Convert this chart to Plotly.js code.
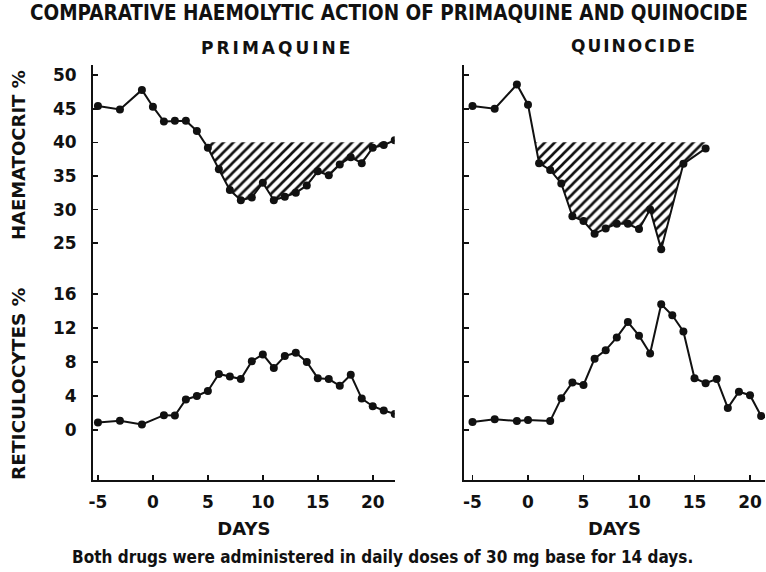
<!DOCTYPE html>
<html>
<head>
<meta charset="utf-8">
<script src="https://cdn.plot.ly/plotly-3.0.1.min.js"></script>
<style>html,body{margin:0;padding:0;background:#fff;}</style>
</head>
<body>
<div id="chart" style="width:766px;height:572px;"></div>
<script>
// ---- data ----
const daysHctPrim = [-5,-3,-1,0,1,2,3,4,5,6,7,8,9,10,11,12,13,14,15,16,17,18,19,20,21,22];
const hctPrim = [45.4,44.9,47.8,45.3,43.1,43.2,43.2,41.7,39.2,36.0,32.9,31.4,31.8,34.0,31.4,31.9,32.5,33.6,35.7,35.1,36.7,37.8,36.9,39.2,39.6,40.3];

const daysRetPrim = [-5,-3,-1,1,2,3,4,5,6,7,8,9,10,11,12,13,14,15,16,17,18,19,20,21,22];
const retPrim = [0.9,1.1,0.66,1.75,1.7,3.6,4.0,4.6,6.6,6.3,6.0,8.1,8.9,7.3,8.7,9.1,8.0,6.1,6.0,5.2,6.5,3.7,2.8,2.3,1.9];

const daysHctQuin = [-5,-3,-1,0,1,2,3,4,5,6,7,8,9,10,11,12,14,16];
const hctQuin = [45.4,45.0,48.6,45.6,36.9,35.9,33.9,29.0,28.3,26.4,27.2,27.9,27.9,27.1,30.0,24.1,36.8,39.1];

const daysRetQuin = [-5,-3,-1,0,2,3,4,5,6,7,8,9,10,11,12,13,14,15,16,17,18,19,20,21];
const retQuin = [0.95,1.27,1.07,1.18,1.07,3.75,5.6,5.3,8.4,9.4,10.9,12.7,11.1,9.0,14.8,13.5,11.6,6.1,5.5,6.0,2.6,4.5,4.1,1.66];

const hctLevel = 40;
const hctTicks = [25,30,35,40,45,50];
const retTicks = [0,4,8,12,16];
const dayTicks = [-5,0,5,10,15,20];
const dayTickText = ['-5','0','5','10','15','20'];

// polygon of the area between the curve and the 40% level, where the curve is below it
function hatchPolygon(xs, ys, level) {
  const px = [], py = [];
  let started = false;
  for (let i = 0; i < xs.length; i++) {
    if (ys[i] < level) {
      if (!started) {
        if (i > 0) {
          const t = (ys[i-1] - level) / (ys[i-1] - ys[i]);
          px.push(xs[i-1] + t * (xs[i] - xs[i-1])); py.push(level);
        } else { px.push(xs[i]); py.push(level); }
        started = true;
      }
      px.push(xs[i]); py.push(ys[i]);
      if (i + 1 < xs.length && ys[i+1] >= level) {
        const t = (level - ys[i]) / (ys[i+1] - ys[i]);
        px.push(xs[i] + t * (xs[i+1] - xs[i])); py.push(level);
        break;
      }
      if (i + 1 === xs.length) { px.push(xs[i]); py.push(level); }
    }
  }
  return {x: px, y: py};
}

const hp = hatchPolygon(daysHctPrim, hctPrim, hctLevel);
const hq = hatchPolygon(daysHctQuin, hctQuin, hctLevel);

const pattern = {shape: '/', size: 7, solidity: 0.38, fgcolor: '#111', bgcolor: 'rgba(0,0,0,0)'};
const lineStyle = {color: '#111', width: 2};
const markerStyle = {color: '#111', size: 8};

const traces = [
  {x: hp.x, y: hp.y, xaxis: 'x', yaxis: 'y', type: 'scatter', mode: 'lines', fill: 'toself',
   fillcolor: 'rgba(0,0,0,0)', fillpattern: pattern, line: {width: 0}, hoverinfo: 'skip'},
  {x: hq.x, y: hq.y, xaxis: 'x2', yaxis: 'y3', type: 'scatter', mode: 'lines', fill: 'toself',
   fillcolor: 'rgba(0,0,0,0)', fillpattern: pattern, line: {width: 0}, hoverinfo: 'skip'},
  {x: daysHctPrim, y: hctPrim, xaxis: 'x', yaxis: 'y', type: 'scatter', mode: 'lines+markers', line: lineStyle, marker: markerStyle},
  {x: daysRetPrim, y: retPrim, xaxis: 'x', yaxis: 'y2', type: 'scatter', mode: 'lines+markers', line: lineStyle, marker: markerStyle},
  {x: daysHctQuin, y: hctQuin, xaxis: 'x2', yaxis: 'y3', type: 'scatter', mode: 'lines+markers', line: lineStyle, marker: markerStyle},
  {x: daysRetQuin, y: retQuin, xaxis: 'x2', yaxis: 'y4', type: 'scatter', mode: 'lines+markers', line: lineStyle, marker: markerStyle}
];

const fontTick = {family: 'DejaVu Sans, sans-serif', size: 17, color: '#111', weight: 'bold'};
const axCommon = {showline: true, linewidth: 2, linecolor: '#111', ticks: 'inside', ticklen: 5, tickwidth: 1.6,
  tickcolor: '#111', showgrid: false, zeroline: false, tickfont: fontTick, fixedrange: true};

const daysTitle = {text: 'DAYS', font: {family: 'DejaVu Sans, sans-serif', size: 18, color: '#111', weight: 'bold'}, standoff: 11};

const layout = {
  width: 766, height: 572,
  margin: {l: 93, r: 1, t: 65, b: 92},
  paper_bgcolor: '#fff', plot_bgcolor: '#fff',
  showlegend: false,
  xaxis: Object.assign({}, axCommon, {domain: [0, 0.449], range: [-5.45, 22.0], anchor: 'y2',
    tickmode: 'array', tickvals: dayTicks, ticktext: dayTickText, ticklabelstandoff: 6, title: daysTitle}),
  xaxis2: Object.assign({}, axCommon, {domain: [0.552, 1], range: [-5.77, 21.35], anchor: 'y4',
    tickmode: 'array', tickvals: dayTicks, ticktext: dayTickText, ticklabelstandoff: 6, title: daysTitle}),
  yaxis: Object.assign({}, axCommon, {domain: [0.530, 1], range: [22.5, 51.5], anchor: 'x',
    tickmode: 'array', tickvals: hctTicks, ticklabelstandoff: 11}),
  yaxis2: Object.assign({}, axCommon, {domain: [0, 0.530], range: [-5.88, 20], anchor: 'x',
    tickmode: 'array', tickvals: retTicks, ticklabelstandoff: 11}),
  yaxis3: Object.assign({}, axCommon, {domain: [0.530, 1], range: [22.5, 51.5], anchor: 'x2',
    tickmode: 'array', tickvals: hctTicks, showticklabels: false}),
  yaxis4: Object.assign({}, axCommon, {domain: [0, 0.530], range: [-5.88, 20], anchor: 'x2',
    tickmode: 'array', tickvals: retTicks, showticklabels: false}),
  annotations: [
    {text: '<b>COMPARATIVE HAEMOLYTIC ACTION OF PRIMAQUINE AND QUINOCIDE</b>', showarrow: false,
     font: {family: 'DejaVu Sans Condensed, sans-serif', size: 20.5, color: '#111'}},
    {text: '<b><span style="letter-spacing:3px">PRIMAQUINE</span></b>', showarrow: false, font: {family: 'DejaVu Sans, sans-serif', size: 17, color: '#111'}},
    {text: '<b><span style="letter-spacing:2px">QUINOCIDE</span></b>', showarrow: false, font: {family: 'DejaVu Sans, sans-serif', size: 17, color: '#111'}},
    {text: '<b>HAEMATOCRIT %</b>', showarrow: false, textangle: -90, font: {family: 'DejaVu Sans, sans-serif', size: 18, color: '#111'}},
    {text: '<b>RETICULOCYTES %</b>', showarrow: false, textangle: -90, font: {family: 'DejaVu Sans, sans-serif', size: 18.5, color: '#111'}},
    {text: '<b>Both drugs were administered in daily doses of 30 mg base for 14 days.</b>', showarrow: false,
     font: {family: 'Liberation Sans Narrow, DejaVu Sans Condensed, sans-serif', size: 17, color: '#111'}}
  ]
};

// place annotations in pixel terms converted to paper fractions
const W = 766 - 93 - 1, H = 572 - 65 - 92;
function px(xp) { return (xp - 93) / W; }
function py(yp) { return (572 - 92 - yp) / H; }
const pos = [[389, 13], [277, 48], [634, 46], [18, 155], [18, 384], [382, 557]];
layout.annotations.forEach((a, i) => {
  a.xref = 'paper'; a.yref = 'paper';
  a.x = px(pos[i][0]); a.y = py(pos[i][1]);
  a.xanchor = 'center'; a.yanchor = 'middle';
});

Plotly.newPlot('chart', traces, layout, {displayModeBar: false, staticPlot: true});
</script>
</body>
</html>
